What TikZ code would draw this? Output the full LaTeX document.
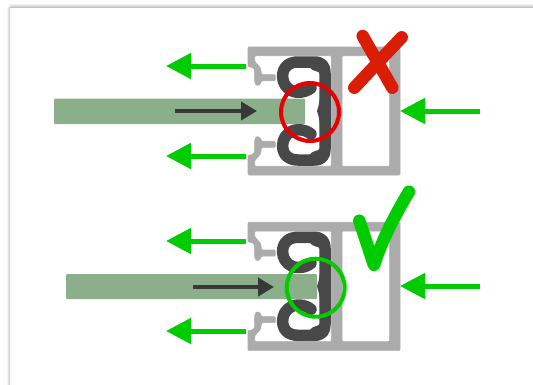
\documentclass[tikz,border=0pt]{standalone}
\usetikzlibrary{arrows.meta}
\definecolor{framegray}{HTML}{ABABAB}
\definecolor{sealdark}{HTML}{484848}
\definecolor{barsage}{HTML}{8AAF8A}
\definecolor{okgreen}{HTML}{00CC00}
\definecolor{badred}{HTML}{D91E05}
\definecolor{ringred}{HTML}{E60000}
\tikzset{
	pushbig/.style={draw=okgreen,line width=5,-{Triangle[length=25,width=25]}},
	pushsmall/.style={draw=black!78,line width=4,-{Triangle[length=16,width=18]}},
	bar/.style={fill=barsage,rounded corners=1},
	verdict/.style={line width=12.5,line cap=round,line join=round},
	ring/.style={line width=4},
	profile/.pic={
		\filldraw[framegray,line width=0.7,even odd rule,rounded corners=1]
			(0,19.5) -- (0,0) -- (152,0) -- (152,128) -- (0,128) -- (0,108.5) -- (5,107.5) -- (6.7,105)
			-- (6.7,93) -- (8.5,89.5) -- (12,90.5) -- (13.5,94.3) -- (27.3,94.3) -- (27.3,100.3) -- (13.5,100.3)
			-- (12.5,107) -- (6.7,113.5) -- (6.7,119.3) -- (83.3,119.3) -- (83.3,8.7) -- (6.7,8.7) -- (6.7,14.5)
			-- (12.5,21) -- (13.5,27.7) -- (27.3,27.7) -- (27.3,33.7) -- (13.5,33.7) -- (12,37.5) -- (8.5,38.5)
			-- (6.7,35) -- (6.7,23) -- (5,20.5) -- cycle
			(94,8.7) rectangle (141.7,119.3);
		\draw[sealdark,line width=11.5,line cap=round,line join=round]
			(63,41) .. controls (57,46) and (48,46) .. (44,44)
			.. controls (38,41) and (34.6,36) .. (34.6,29)
			.. controls (34.8,19) and (42,15) .. (50,15) -- (66,15)
			.. controls (74,15) and (77,19) .. (77,26) -- (77,102)
			.. controls (77,109) and (74,113) .. (66,113) -- (50,113)
			.. controls (42,113) and (34.8,109) .. (34.6,99)
			.. controls (34.6,92) and (38,87) .. (44,84)
			.. controls (48,82) and (57,82) .. (63,87);
		\fill[sealdark] (77,26) .. controls (71,36) and (74,50) .. (69,64)
			.. controls (74,78) and (71,92) .. (77,102) -- cycle;
		\fill[sealdark] (58,18) .. controls (62,19) and (63,23) .. (66,23.5)
			.. controls (69,24) and (72,25) .. (74,30) -- (74,18) -- cycle;
		\fill[sealdark] (58,110) .. controls (62,109) and (63,105) .. (66,104.5)
			.. controls (69,104) and (72,103) .. (74,98) -- (74,110) -- cycle;
	}
}
\begin{document}
\begin{tikzpicture}[x=1pt,y=-1pt]
	\useasboundingbox (0,0) rectangle (533,384);
	% page edge
	\shade[top color=white,bottom color=black!25] (10,3) rectangle (533,7.5);
	\shade[left color=white,right color=black!25] (6.5,7.5) rectangle (10,384);
	% upper case
	\fill[bar] (54,98.7) rectangle (305,124);
	\pic at (248,47) {profile};
	\draw[pushbig] (246,66) -- (166,66);
	\draw[pushbig] (246,156) -- (166,156);
	\draw[pushbig] (480,111) -- (400,111);
	\draw[pushsmall] (175,111) -- (257,111);
	\draw[ring,ringred] (310,112) circle (29);
	\draw[verdict,badred] (362.7,36) -- (392.3,87.7);
	\draw[verdict,badred] (401.7,37.3) -- (354.3,87.7);
	% lower case
	\pic at (248,222.3) {profile};
	\fill[bar] (66,274) rectangle (317,299);
	\draw[pushbig] (246,241) -- (166,241);
	\draw[pushbig] (246,331) -- (166,331);
	\draw[pushbig] (480,286) -- (400,286);
	\draw[pushsmall] (193,287) -- (274,287);
	\draw[ring,okgreen] (315.7,287.7) circle (29);
	\draw[verdict,okgreen] (359.3,220.7) .. controls (364,235) and (369,250) .. (374,265)
		.. controls (382,240) and (395,215) .. (409,191.7);
\end{tikzpicture}
\end{document}
